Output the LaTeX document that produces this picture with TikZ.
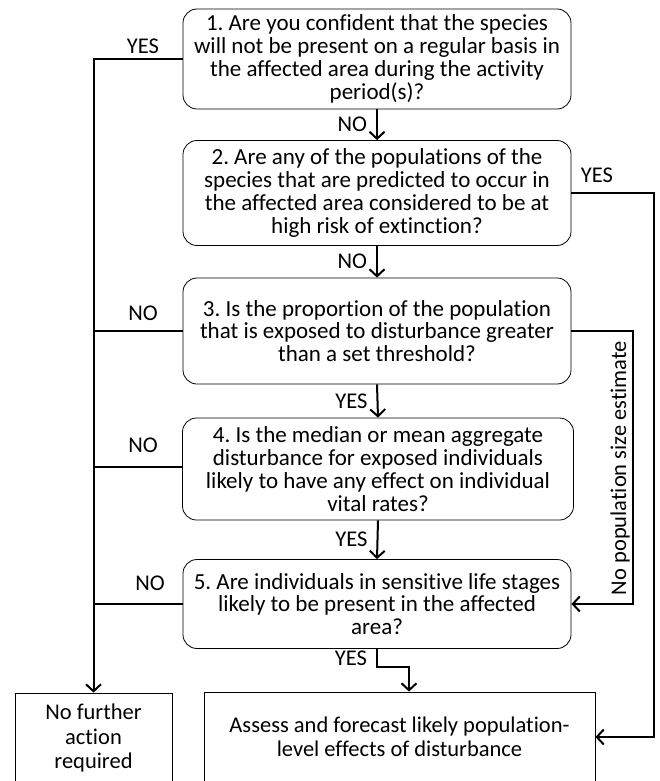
\documentclass[tikz,border=0pt]{standalone}
\usepackage{fontspec}
\setmainfont{Carlito}[Ligatures=NoCommon]
\usetikzlibrary{arrows.meta}
\frenchspacing

\tikzset{
  qbox/.style={draw, rounded corners=14pt, line width=0.8pt, align=center,
    minimum width=388pt, inner sep=0pt, font=\fontsize{23}{22.8}\selectfont},
  endbox/.style={draw, line width=0.8pt, align=center, inner sep=0pt,
    font=\fontsize{22.5}{24.5}\selectfont},
  flow/.style={line width=2pt, -{Straight Barb[length=7pt,width=15pt,line width=2pt]}},
  trunk/.style={line width=2pt},
  lbl/.style={font=\fontsize{22.5}{23}\selectfont, inner sep=1pt}
}

\begin{document}
\begin{tikzpicture}[x=1pt,y=-1pt]
				\useasboundingbox (0,0) rectangle (659,781);
				% questions
				\node[qbox, minimum height=100pt] (q1) at (377,59) {1. Are you confident that the species\\will not be present on a regular basis in\\the affected area during the activity\\period(s)?};
				\node[qbox, minimum height=105pt] (q2) at (377,193) {2. Are any of the populations of the\\species that are predicted to occur in\\the affected area considered to be at\\high risk of extinction?};
				\node[qbox, minimum height=106pt] (q3) at (377,331) {3. Is the proportion of the population\\that is exposed to disturbance greater\\than a set threshold?};
				\node[qbox, minimum height=102pt, minimum width=391pt] (q4) at (378,469) {4. Is the median or mean aggregate\\disturbance for exposed individuals\\likely to have any effect on individual\\vital rates?};
				\node[qbox, minimum height=89pt] (q5) at (377,604) {5. Are individuals in sensitive life stages\\likely to be present in the affected\\area?};
				% outcomes
				\node[endbox, minimum width=157pt, minimum height=90pt] (stop) at (93.5,738) {No further\\action\\required};
				\node[endbox, minimum width=391pt, minimum height=90pt] (assess) at (399.5,737) {Assess and forecast likely population-\\level effects of disturbance};
				% left side
				\draw[flow] (q1.west) -| (stop.north);
				\draw[trunk] (q3.west) -- (q3.west -| stop.north);
				\draw[trunk] ([yshift=2]q4.west) -- ([yshift=2]q4.west -| stop.north);
				\draw[trunk] (q5.west) -- (q5.west -| stop.north);
				\node[lbl] at (143,46) {YES};
				\node[lbl] at (143,313) {NO};
				\node[lbl] at (143,445) {NO};
				\node[lbl] at (150,583) {NO};
				% down the middle
				\draw[flow] (q1.south) -- (q2.north) node[lbl, midway, left=8pt] {NO};
				\draw[flow] (q2.south) -- (q3.north) node[lbl, midway, left=8pt] {NO};
				\draw[flow] (q3.south) -- (q4.north) node[lbl, midway, left=8pt] {YES};
				\draw[flow] (q4.south) -- (q5.north) node[lbl, midway, left=8pt] {YES};
				\draw[flow] (q5.south) -- ++(0,18) node[lbl, midway, left=8pt] {YES} -| ([xshift=9.5]assess.north);
				% right side
				\draw[flow] (q2.east) -- ++(83,0) |- (assess.east);
				\node[lbl] at (597,175) {YES};
				\draw[flow] (q3.east) -- ++(62,0) |- (q5.east);
				\node[lbl, rotate=90] at (620,468) {No population size estimate};
			\end{tikzpicture}
\end{document}
